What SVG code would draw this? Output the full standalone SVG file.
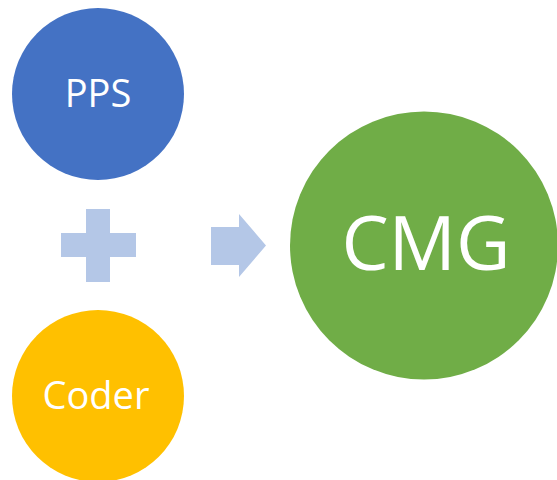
<svg xmlns="http://www.w3.org/2000/svg" width="557" height="480" viewBox="0 0 557 480">
<style>
.lbl{font-family:"Open Sans","Liberation Sans",sans-serif;fill:#ffffff;text-anchor:middle}
.sym{fill:#B4C7E7}
</style>
<rect width="557" height="480" fill="#ffffff"/>
<g id="pps">
<circle cx="98" cy="94" r="86" fill="#4472C4"/>
<text class="lbl" x="98" y="107" font-size="38">PPS</text>
</g>
<g id="coder">
<circle cx="98" cy="396" r="86" fill="#FFC000"/>
<text class="lbl" x="96" y="409" font-size="38">Coder</text>
</g>
<g id="cmg">
<circle cx="424" cy="245.5" r="134" fill="#70AD47"/>
<text class="lbl" x="426" y="270" font-size="75">CMG</text>
</g>
<g id="connectors">
<polygon class="sym" points="86,209 110,209 110,233 136,233 136,257 110,257 110,282 86,282 86,257 61,257 61,233 86,233"/>
<polygon class="sym" points="211,227 239,227 239,214 266,245.5 239,277 239,265 211,265"/>
</g>
</svg>
